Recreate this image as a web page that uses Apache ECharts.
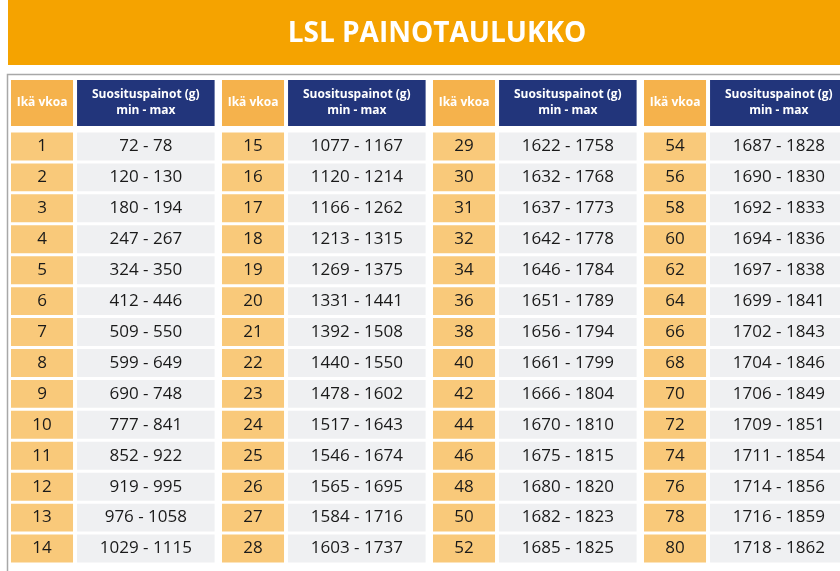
<!DOCTYPE html>
<html><head><meta charset="utf-8">
<script src="https://cdn.jsdelivr.net/npm/echarts@6/dist/echarts.min.js"></script>
<style>html,body{margin:0;padding:0;background:#fff}#c{width:840px;height:571px}</style>
</head><body><div id="c"></div>
<script>
const title = 'LSL PAINOTAULUKKO';
const ageHeader = 'Ikä vkoa';
const weightHeader = 'Suosituspainot (g)\nmin - max';
const ages = [
  [1,2,3,4,5,6,7,8,9,10,11,12,13,14],
  [15,16,17,18,19,20,21,22,23,24,25,26,27,28],
  [29,30,31,32,34,36,38,40,42,44,46,48,50,52],
  [54,56,58,60,62,64,66,68,70,72,74,76,78,80]
];
const minW = [
  [72,120,180,247,324,412,509,599,690,777,852,919,976,1029],
  [1077,1120,1166,1213,1269,1331,1392,1440,1478,1517,1546,1565,1584,1603],
  [1622,1632,1637,1642,1646,1651,1656,1661,1666,1670,1675,1680,1682,1685],
  [1687,1690,1692,1694,1697,1699,1702,1704,1706,1709,1711,1714,1716,1718]
];
const maxW = [
  [78,130,194,267,350,446,550,649,748,841,922,995,1058,1115],
  [1167,1214,1262,1315,1375,1441,1508,1550,1602,1643,1674,1695,1716,1737],
  [1758,1768,1773,1778,1784,1789,1794,1799,1804,1810,1815,1820,1823,1825],
  [1828,1830,1833,1836,1838,1841,1843,1846,1849,1851,1854,1856,1859,1862]
];
const rows = ages[0].map((_, i) => 'r' + i);

const bodyData = [];
for (let g = 0; g < 4; g++) for (let r = 0; r < 14; r++)
  bodyData.push([g, r, ages[g][r], minW[g][r] + ' - ' + maxW[g][r]]);
const headData = [0,1,2,3].map(g => [g, 0]);

const FONT = '"Open Sans", "Noto Sans", sans-serif';
const XMAX = 829 / 211;

function cells(api, g, yc, h, texts, head) {
  const x0 = api.coord([g, 0])[0];
  const x1 = api.coord([g + 1, 0])[0];
  const w = x1 - x0;
  const aw = w * 0.294, gap = w * 0.019, ww = w * 0.652;
  const top = yc - h / 2;
  const fs = head ? 12 : 17;
  return {
    type: 'group',
    children: [
      {type:'rect', shape:{x:x0, y:top, width:aw, height:h},
       style:{fill: head ? '#F5B24C' : '#F9C97A'}},
      {type:'rect', shape:{x:x0+aw+gap, y:top, width:ww, height:h},
       style:{fill: head ? '#22357B' : '#EFF0F2'}},
      {type:'text', style:{x:x0+aw/2, y:yc, text:texts[0], align:'center', verticalAlign:'middle',
        fill: head ? '#fff' : '#1a1a1a', font:(head?'bold ':'')+fs+'px '+FONT}},
      {type:'text', style:{x:x0+aw+gap+ww/2, y:yc, text:texts[1], align:'center', verticalAlign:'middle',
        fill: head ? '#fff' : '#1a1a1a', font:(head?'bold ':'')+fs+'px '+FONT, lineHeight:16}}
    ]
  };
}

const chart = echarts.init(document.getElementById('c'));
chart.setOption({
  animation: false,
  title: {text: title, left: 432, top: 15, textAlign: 'center',
    textStyle: {color: '#fff', fontSize: 28, fontWeight: 'bold', fontFamily: FONT}},
  graphic: [
    {type:'rect', z:-10, shape:{x:8, y:0, width:840, height:65}, style:{fill:'#F5A300'}},
    {type:'rect', z:-10, shape:{x:7.5, y:74.5, width:840, height:500}, style:{fill:'#fff', stroke:'#A8A8A8', lineWidth:1.5}}
  ],
  grid: [
    {left: 11, right: 0, top: 80, height: 46},
    {left: 11, right: 0, top: 131, height: 433}
  ],
  xAxis: [
    {gridIndex:0, type:'value', min:0, max:XMAX, show:false},
    {gridIndex:1, type:'value', min:0, max:XMAX, show:false}
  ],
  yAxis: [
    {gridIndex:0, type:'category', data:['h'], show:false},
    {gridIndex:1, type:'category', data:rows, inverse:true, show:false}
  ],
  series: [
    {type:'custom', xAxisIndex:0, yAxisIndex:0, data:headData, silent:true, clip:false,
     renderItem: (p, api) => {
       const g = api.value(0);
       const yc = api.coord([0, 0])[1];
       return cells(api, g, yc, 46, [ageHeader, weightHeader], true);
     }},
    {type:'custom', xAxisIndex:1, yAxisIndex:1, data:bodyData, silent:true, clip:false,
     renderItem: (p, api) => {
       const g = api.value(0), r = api.value(1);
       const yc = api.coord([0, r])[1];
       const h = api.size([0, 1])[1] - 3;
       const d = bodyData[p.dataIndex];
       return cells(api, g, yc, h, [String(d[2]), d[3]], false);
     }}
  ]
});
</script></body></html>
